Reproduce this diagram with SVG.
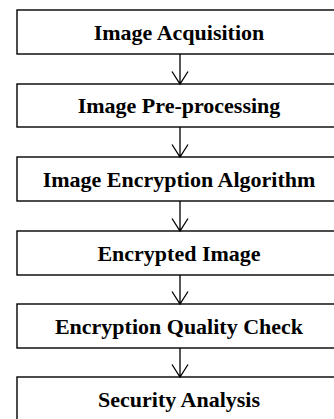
<svg xmlns="http://www.w3.org/2000/svg" width="334" height="419" viewBox="0 0 334 419">
<style>
.box{fill:#fff;stroke:#000;stroke-width:1.4}
.lbl{font-family:"Liberation Serif","Times New Roman",serif;font-weight:bold;font-size:22px;text-anchor:middle;fill:#000}
.con{stroke:#000;stroke-width:1.3;fill:none}
</style>
<rect width="334" height="419" fill="#fff"/>
<g id="n1"><rect class="box" x="17" y="10" width="325" height="44"/><text class="lbl" x="179" y="39.5">Image Acquisition</text></g>
<g id="n2"><rect class="box" x="17" y="84" width="325" height="43"/><text class="lbl" x="179" y="113">Image Pre-processing</text></g>
<g id="n3"><rect class="box" x="17" y="157" width="325" height="44"/><text class="lbl" x="179" y="186.5">Image Encryption Algorithm</text></g>
<g id="n4"><rect class="box" x="17" y="231" width="325" height="44"/><text class="lbl" x="179" y="260.5">Encrypted Image</text></g>
<g id="n5"><rect class="box" x="17" y="304" width="325" height="44"/><text class="lbl" x="179" y="333.5">Encryption Quality Check</text></g>
<g id="n6"><rect class="box" x="17" y="377" width="325" height="50"/><text class="lbl" x="179" y="406.5">Security Analysis</text></g>
<g id="connectors">
<path class="con" d="M180 54V84M172 71.5L180 84L188 71.5"/>
<path class="con" d="M180 127V157M172 144.5L180 157L188 144.5"/>
<path class="con" d="M180 201V231M172 218.5L180 231L188 218.5"/>
<path class="con" d="M180 275V304M172 291.5L180 304L188 291.5"/>
<path class="con" d="M180 348V377M172 364.5L180 377L188 364.5"/>
</g>
</svg>
